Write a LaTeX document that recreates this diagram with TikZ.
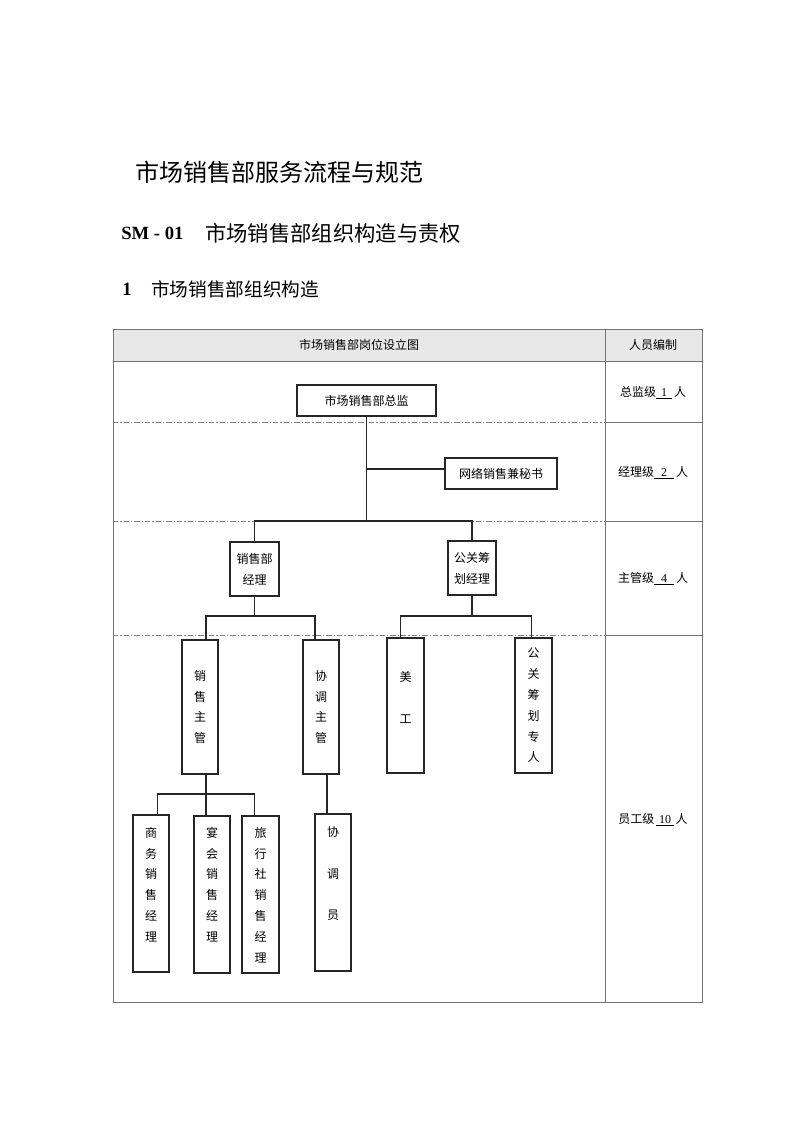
\documentclass[tikz,border=0pt]{standalone}
\usepackage{fontspec}
\setmainfont{Liberation Serif}
\newfontfamily\cjk{Noto Sans CJK SC}
\begin{document}
\begin{tikzpicture}[x=0.75pt,y=-0.75pt,
 tl/.style={draw=black!55, line width=0.7pt},
 dd/.style={draw=black!50, line width=0.7pt, dash pattern=on 4pt off 1.5pt on 1pt off 1.5pt},
 bx/.style={draw=black!85, line width=0.9pt, inner sep=0pt},
 cn/.style={font=\cjk\fontsize{9}{15.6}\selectfont, align=center, inner sep=0pt},
 ln/.style={draw=black!85, line width=0.8pt}]
\useasboundingbox (0,0) rectangle (800,1131);

% titles
\node[anchor=west, inner sep=0pt, font=\cjk\fontsize{18}{18}\selectfont] (t1) at (135,172) {市场销售部服务流程与规范};
\node[anchor=west, inner sep=0pt, font=\bfseries\fontsize{14}{14}\selectfont] (t2) at (121,233) {SM - 01};
\node[anchor=west, inner sep=0pt, font=\cjk\fontsize{16}{16}\selectfont] (t3) at (205,233) {市场销售部组织构造与责权};
\node[anchor=west, inner sep=0pt, font=\bfseries\fontsize{14}{14}\selectfont] (t4) at (122,289) {1};
\node[anchor=west, inner sep=0pt, font=\cjk\fontsize{14}{14}\selectfont] (t5) at (151,289) {市场销售部组织构造};

% table
\fill[black!9] (113,329) rectangle (702,361);
\draw[tl] (113,329) rectangle (702,1002);
\draw[tl] (113,361) -- (702,361);
\draw[tl] (605,329) -- (605,1002);
\foreach \yy in {422,521,635} {
  \draw[tl] (605,\yy) -- (702,\yy);
  \draw[dd] (113,\yy) -- (605,\yy);
}
\node[cn] (hd1) at (359,345) {市场销售部岗位设立图};
\node[cn] (hd2) at (653,345) {人员编制};
\node[cn] (r1) at (653,393) {总监级\underline{\makebox[12pt]{\rmfamily 1}}\,人};
\node[cn] (r2) at (653,473) {经理级\underline{\makebox[15pt]{\rmfamily 2}}\,人};
\node[cn] (r3) at (653,579) {主管级\underline{\makebox[15pt]{\rmfamily 4}}\,人};
\node[cn] (r4) at (653,820) {员工级\,\underline{\makebox[13pt]{\rmfamily 10}}\,人};

% boxes
\node[bx, cn, minimum width=104.25pt, minimum height=23.25pt] (zj) at (366.5,400.5) {市场销售部总监};
\node[bx, cn, minimum width=84pt, minimum height=23.25pt] (ms) at (501,473.5) {网络销售兼秘书};
\node[bx, cn, minimum width=36.75pt, minimum height=40.5pt] (xsjl) at (254.5,569) {销售部\\经理};
\node[bx, cn, minimum width=36pt, minimum height=40.5pt] (gg) at (472,568) {公关筹\\划经理};
\node[bx, cn, minimum width=27pt, minimum height=100.5pt] (xszg) at (200,707) {销\\售\\主\\管};
\node[bx, cn, minimum width=27pt, minimum height=100.5pt] (xtzg) at (321,707) {协\\调\\主\\管};
\node[bx, minimum width=27.75pt, minimum height=101.25pt] (mg) at (405.5,705.5) {};
\node[cn] (mgt) at (405.5,697.5) {美\\[15.6pt]工};
\node[bx, cn, minimum width=27.75pt, minimum height=101.25pt] (gzr) at (533.5,705.5) {公\\关\\筹\\划\\专\\人};
\node[bx, minimum width=27pt, minimum height=117.75pt] (sw) at (151,893.5) {};
\node[cn] (swt) at (151,884.5) {商\\务\\销\\售\\经\\理};
\node[bx, minimum width=27pt, minimum height=117.75pt] (yh) at (212,894.5) {};
\node[cn] (yht) at (212,884.5) {宴\\会\\销\\售\\经\\理};
\node[bx, minimum width=27.75pt, minimum height=117.75pt] (lxs) at (260.5,894.5) {};
\node[cn] (lxst) at (260.5,895) {旅\\行\\社\\销\\售\\经\\理};
\node[bx, minimum width=27pt, minimum height=117.75pt] (xty) at (333,892.5) {};
\node[cn] (xtyt) at (333,873.5) {协\\[15.6pt]调\\[15.6pt]员};

% connectors
\coordinate (br1) at (0,521);
\coordinate (br2) at (0,616);
\coordinate (br3) at (0,794);
\draw[ln] (zj.south) -- (zj.south |- br1);
\draw[ln] (xsjl.north) |- (gg.north |- br1) -- (gg.north);
\draw[ln] ([yshift=3.4pt]ms.west) -- ([yshift=3.4pt]ms.west -| zj.south);

\draw[ln] (xsjl.south) -- (xsjl.south |- br2);
\draw[ln] ([xshift=4.5pt]xszg.north) |- ([xshift=-4.5pt]xtzg.north |- br2) -- ([xshift=-4.5pt]xtzg.north);
\draw[ln] (gg.south) -- (gg.south |- br2);
\draw[ln] ([xshift=-4.1pt]mg.north) |- ([xshift=-1.5pt]gzr.north |- br2) -- ([xshift=-1.5pt]gzr.north);

\draw[ln] ([xshift=4.5pt]xszg.south) -- ([xshift=-4.5pt]yh.north);
\draw[ln] ([xshift=4.9pt]sw.north) |- ([xshift=-4.5pt]lxs.north |- br3) -- ([xshift=-4.5pt]lxs.north);
\draw[ln] ([xshift=4.5pt]xtzg.south) -- ([xshift=-4.5pt]xty.north);
\end{tikzpicture}
\end{document}
